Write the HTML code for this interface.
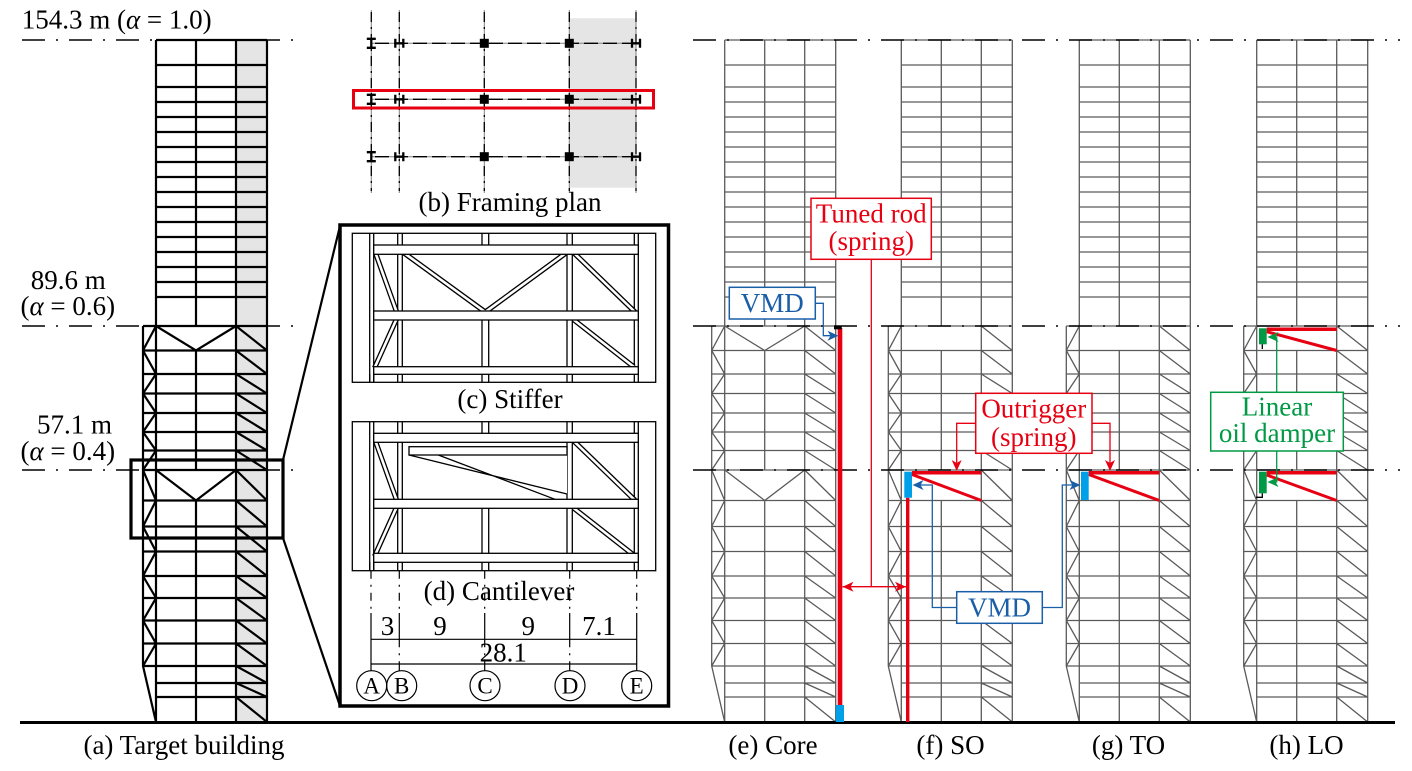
<!DOCTYPE html>
<html>
<head>
<meta charset="utf-8">
<style>
html,body{margin:0;padding:0;background:#fff;}
svg{display:block;}
.t{font-family:"Liberation Serif","Times New Roman",serif;font-size:27px;}
</style>
</head>
<body>
<svg width="1412" height="771" viewBox="0 0 1412 771" xmlns="http://www.w3.org/2000/svg">
<defs>
<g id="fr">
<path d="M156 40H267M156 65H267M156 87H267M156 102H267M156 117H267M156 132H267M156 147H267M156 162H267M156 177H267M156 192H267M156 207H267M156 222H267M156 237H267M156 252H267M156 267H267M156 282H267M156 297H267
M143 326H267M143 350.5H267M143 374H267M143 393.5H267M143 413H267M143 432H267M143 450.5H267M143 470H267M143 500.5H267M143 526.5H267M143 551.5H267M143 576H267M143 598H267M143 620.5H267M143 643.5H267M143 666H267M156 683H267M156 697H267
M156 40V722M236 40V722M267 40V722M196 40V326M196 350.5V470M196 500.5V722M143 326V666L156 722
M156 326L143 350.5L156 374L143 393.5L156 413L143 432L156 450.5L143 470L156 500.5L143 526.5L156 551.5L143 576L156 598L143 620.5L156 643.5L143 666
M236 326L267 350.5M236 350.5L267 374M236 374L267 393.5M236 393.5L267 413M236 413L267 432M236 432L267 450.5M236 450.5L267 470M236 470L267 500.5M236 500.5L267 526.5M236 526.5L267 551.5M236 551.5L267 576M236 576L267 598M236 598L267 620.5M236 620.5L267 643.5M236 643.5L267 666M236 666L267 683M236 683L267 697M236 697L267 722"/>
</g>
<path id="vb" d="M156 326L196 350.5L236 326M156 470L196 500.5L236 470"/>
</defs>

<!-- (a) Target building -->
<rect x="236" y="40" width="31" height="682" fill="#e5e5e5"/>
<g fill="none" stroke="#000" stroke-width="2.2">
<use href="#fr"/>
<use href="#vb"/>
</g>
<rect x="131" y="460" width="152" height="78" fill="none" stroke="#000" stroke-width="3.2"/>
<path d="M283 460L340 226M283 538L340 706" stroke="#000" stroke-width="2.2" fill="none"/>

<!-- right frames -->
<g fill="none" stroke="#5a5a5a" stroke-width="1.3">
<g transform="translate(568.7,0)"><use href="#fr"/><use href="#vb"/></g>
<g transform="translate(745.3,0)"><use href="#fr"/></g>
<g transform="translate(923.3,0)"><use href="#fr"/></g>
<g transform="translate(1100.7,0)"><use href="#fr"/></g>
</g>

<!-- level lines -->
<g stroke="#000" stroke-width="1.6" stroke-dasharray="23 11 2 11" fill="none">
<path d="M22 40H296M22 326H296M22 470H296"/>
<path d="M693 40H1400M693 326H1400M693 470H1400"/>
</g>

<!-- ground -->
<path d="M20 722.5H1395" stroke="#000" stroke-width="3"/>

<!-- (b) Framing plan -->
<rect x="569.3" y="18.3" width="66.7" height="169.4" fill="#e5e5e5"/>
<g stroke="#808080" stroke-width="1" fill="none">
<path d="M371.3 10V193M399.3 10V193M484.3 10V193M569.3 10V193M636 10V193"/>
<path d="M371.3 43.3H636M371.3 99.3H636M371.3 156.7H636"/>
<path d="M339 43.3H371.3M636 43.3H647M339 99.3H371.3M636 99.3H647M339 156.7H371.3M636 156.7H647" stroke="#fff" stroke-width="1.2" stroke-dasharray="4 6"/>
</g>
<g stroke="#000" stroke-width="1.3" fill="none">
<path d="M371.3 12V191M399.3 12V191M484.3 12V191M569.3 12V191M636 12V191" stroke-dasharray="10 5 2 5"/>
<path d="M375 43.3H632M375 99.3H632M375 156.7H632" stroke-dasharray="14 5"/>
</g>
<g stroke="#000" stroke-width="2.3" fill="none">
<path d="M366.8 38.8H375.8M366.8 47.8H375.8M371.3 38.8V47.8M366.8 94.8H375.8M366.8 103.8H375.8M371.3 94.8V103.8M366.8 152.2H375.8M366.8 161.2H375.8M371.3 152.2V161.2"/>
<path d="M395.3 38.8V47.8M403.3 38.8V47.8M395.3 43.3H403.3M395.3 94.8V103.8M403.3 94.8V103.8M395.3 99.3H403.3M395.3 152.2V161.2M403.3 152.2V161.2M395.3 156.7H403.3"/>
<path d="M632 38.8V47.8M640 38.8V47.8M632 43.3H640M632 94.8V103.8M640 94.8V103.8M632 99.3H640M632 152.2V161.2M640 152.2V161.2M632 156.7H640"/>
</g>
<g fill="#000">
<rect x="479.8" y="38.8" width="9" height="9"/><rect x="564.8" y="38.8" width="9" height="9"/>
<rect x="479.8" y="94.8" width="9" height="9"/><rect x="564.8" y="94.8" width="9" height="9"/>
<rect x="479.8" y="152.2" width="9" height="9"/><rect x="564.8" y="152.2" width="9" height="9"/>
</g>
<rect x="353.5" y="90.5" width="300" height="17.5" fill="none" stroke="#e60012" stroke-width="3"/>
<text class="t" x="510" y="211" text-anchor="middle">(b) Framing plan</text>

<!-- detail box -->
<rect x="340" y="225" width="328.5" height="481" fill="none" stroke="#000" stroke-width="3.5"/>

<!-- (c) Stiffer -->
<g fill="none" stroke="#000" stroke-width="1.3">
<rect x="352.3" y="233.3" width="303.4" height="149"/>
<path d="M369.7 233.3V382.3M373.7 233.3V382.3M397.7 233.3V382.3M402.3 233.3V382.3M567 233.3V382.3M572.3 233.3V382.3M634.3 233.3V382.3M638.3 233.3V382.3M482 233.3V245M488.7 233.3V245M482 320V382.3M488.7 320V382.3"/>
</g>
<g fill="none" stroke="#000" stroke-width="5.2">
<path d="M375.5 253L397 313M397 318L374.5 368M404 253L485.3 312L566 253M574 253L635 312M574 320L634 367"/>
</g>
<g fill="none" stroke="#fff" stroke-width="2.6">
<path d="M375.5 253L397 313M397 318L374.5 368M404 253L485.3 312L566 253M574 253L635 312M574 320L634 367"/>
</g>
<g fill="#fff" stroke="#000" stroke-width="1.3">
<rect x="373.7" y="245" width="264.6" height="9.3"/>
<rect x="373.7" y="311" width="264.6" height="9"/>
<rect x="373.7" y="366.7" width="264.6" height="7.6"/>
</g>
<path d="M369.7 374.3V382.3M373.7 374.3V382.3" stroke="#000" stroke-width="1.3"/>
<text class="t" x="510" y="408" text-anchor="middle">(c) Stiffer</text>

<!-- (d) Cantilever -->
<g fill="none" stroke="#000" stroke-width="1.3">
<rect x="352.3" y="421.7" width="303.4" height="149"/>
<path d="M369.7 421.7V570.7M373.7 421.7V570.7M397.7 421.7V570.7M402.3 421.7V570.7M567 421.7V570.7M572.3 421.7V570.7M634.3 421.7V570.7M638.3 421.7V570.7M482 421.7V433.3M488.7 421.7V433.3M482 508.3V570.7M488.7 508.3V570.7"/>
</g>
<g fill="none" stroke="#000" stroke-width="5.2">
<path d="M375.5 441.3L397 501.3M397 506.3L374.5 556.3M574 441.3L635 500.3M574 508.3L634 555.3"/>
</g>
<g fill="none" stroke="#fff" stroke-width="2.6">
<path d="M375.5 441.3L397 501.3M397 506.3L374.5 556.3M574 441.3L635 500.3M574 508.3L634 555.3"/>
</g>
<g fill="#fff" stroke="#000" stroke-width="1.3">
<path d="M409 455L567 494V455Z" stroke="none"/>
<path d="M409 455L567 494M438.3 455L555 499.3" fill="none"/>
<rect x="409" y="446.7" width="158" height="8.3"/>
<rect x="373.7" y="433.3" width="264.6" height="9"/>
<rect x="373.7" y="499.3" width="264.6" height="9"/>
<rect x="373.7" y="553.3" width="264.6" height="9"/>
</g>
<path d="M369.7 562.3V570.7M373.7 562.3V570.7" stroke="#000" stroke-width="1.3"/>
<text class="t" x="499" y="600" text-anchor="middle">(d) Cantilever</text>

<!-- dimensions -->
<g stroke="#000" stroke-width="1.2" fill="none">
<path d="M371 570.7V613M399.3 570.7V613M484.7 570.7V613M569.7 570.7V613M636.7 570.7V613M399.3 639.3V664M484.7 639.3V664M569.7 639.3V664" stroke-dasharray="8 6 2 6"/>
<path d="M371 613V670.7M636.7 613V670.7M399.3 613V639.3M484.7 613V639.3M569.7 613V639.3M399.3 664V671M484.7 664V670.7M569.7 664V670.7"/>
<path d="M371 639.3H636.7M371 664H636.7"/>
<circle cx="371.7" cy="685.7" r="15"/>
<circle cx="401.7" cy="685.7" r="15"/>
<circle cx="485" cy="685.7" r="15"/>
<circle cx="570" cy="685.7" r="15"/>
<circle cx="636.7" cy="685.7" r="15"/>
</g>
<g class="t">
<text x="387.5" y="635" text-anchor="middle">3</text>
<text x="440" y="635" text-anchor="middle">9</text>
<text x="528.3" y="635" text-anchor="middle">9</text>
<text x="599" y="635" text-anchor="middle">7.1</text>
<text x="503.3" y="661.5" text-anchor="middle">28.1</text>
</g>
<g font-family="Liberation Serif, serif" font-size="23" text-anchor="middle">
<text x="371.7" y="693.5">A</text>
<text x="401.7" y="693.5">B</text>
<text x="485" y="693.5">C</text>
<text x="570" y="693.5">D</text>
<text x="636.7" y="693.5">E</text>
</g>

<!-- left labels -->
<g class="t" text-anchor="middle">
<text x="116.7" y="28.3">154.3 m (<tspan font-style="italic">α</tspan> = 1.0)</text>
<text x="68.3" y="289">89.6 m</text>
<text x="67.8" y="315">(<tspan font-style="italic">α</tspan> = 0.6)</text>
<text x="74.5" y="433.3">57.1 m</text>
<text x="67.8" y="460">(<tspan font-style="italic">α</tspan> = 0.4)</text>
<text x="184" y="754">(a) Target building</text>
<text x="773" y="754">(e) Core</text>
<text x="950.5" y="754">(f) SO</text>
<text x="1128.5" y="754">(g) TO</text>
<text x="1306.5" y="754">(h) LO</text>
</g>

<!-- Core devices -->
<rect x="837.7" y="328" width="4.6" height="377" fill="#e60012"/>
<rect x="835.7" y="705" width="8.3" height="17" fill="#00a0e9"/>
<rect x="834" y="326.3" width="7.7" height="3" fill="#000"/>

<!-- SO devices -->
<rect x="906" y="497.7" width="3.4" height="224.3" fill="#e60012"/>
<rect x="904.3" y="471.7" width="7.7" height="26" fill="#00a0e9"/>
<path d="M912 472.7H981.3M1088.7 472.7H1159.3M1266.7 329.3H1336.7M1266.7 472.7H1336.7" stroke="#e60012" stroke-width="3.5" fill="none"/>
<path d="M912 474.5L981.3 500.5M1088.7 474.5L1159.3 500.5M1266.7 331.7L1336.7 350.5M1266.7 475L1336.7 500.5" stroke="#e60012" stroke-width="3" fill="none"/>
<!-- TO devices -->
<rect x="1081" y="471.7" width="7.7" height="28.3" fill="#00a0e9"/>
<!-- LO devices -->
<rect x="1259" y="328.3" width="7.7" height="16" fill="#009944"/>
<rect x="1259" y="471.7" width="7.7" height="21.6" fill="#009944"/>
<path d="M1262.3 344.3V349M1262.3 493.3V497.3H1256" stroke="#000" stroke-width="1.3" fill="none"/>

<!-- connectors -->
<g fill="none" stroke-width="1.3">
<path d="M871.3 259.3V586.7M842.5 586.7H906M975.7 423.3H956.7V468M1092 423.3H1110V468" stroke="#e60012"/>
<path d="M815.3 303.3H823.3V335.7H836M956.7 607.5H932.3V485H915M1042.3 607.5H1062.3V485H1078" stroke="#1a5ea8"/>
<path d="M1276.7 392.3V337H1270M1276.7 451V482H1270" stroke="#009944"/>
</g>
<g fill="#e60012">
<polygon points="0,0 -11,-5 -8,0 -11,5" transform="translate(842.5,586.7) rotate(180)"/>
<polygon points="0,0 -11,-5 -8,0 -11,5" transform="translate(906,586.7)"/>
<polygon points="0,0 -11,-5 -8,0 -11,5" transform="translate(956.7,471) rotate(90)"/>
<polygon points="0,0 -11,-5 -8,0 -11,5" transform="translate(1110,471) rotate(90)"/>
</g>
<g fill="#1a5ea8">
<polygon points="0,0 -11,-5 -8,0 -11,5" transform="translate(838.5,335.7)"/>
<polygon points="0,0 -11,-5 -8,0 -11,5" transform="translate(912.5,485) rotate(180)"/>
<polygon points="0,0 -11,-5 -8,0 -11,5" transform="translate(1080.5,485)"/>
</g>
<g fill="#009944">
<polygon points="0,0 -11,-5 -8,0 -11,5" transform="translate(1267.5,337) rotate(180)"/>
<polygon points="0,0 -11,-5 -8,0 -11,5" transform="translate(1267.5,482) rotate(180)"/>
</g>

<!-- label boxes -->
<rect x="811" y="198.3" width="120.3" height="61" fill="#fff" stroke="#e60012" stroke-width="1.5"/>
<rect x="729.3" y="287.3" width="86" height="31.7" fill="#fff" stroke="#1a5ea8" stroke-width="1.5"/>
<rect x="975.7" y="393.3" width="116.3" height="60" fill="#fff" stroke="#e60012" stroke-width="1.5"/>
<rect x="956.7" y="591.7" width="85.6" height="31.6" fill="#fff" stroke="#1a5ea8" stroke-width="1.5"/>
<rect x="1210.7" y="392.3" width="132.6" height="58.7" fill="#fff" stroke="#009944" stroke-width="1.5"/>
<g class="t" text-anchor="middle">
<text x="871.2" y="222.7" fill="#e60012">Tuned rod</text>
<text x="871.2" y="250" fill="#e60012">(spring)</text>
<text x="772.3" y="312" fill="#1a5ea8">VMD</text>
<text x="1033.8" y="417.5" fill="#e60012">Outrigger</text>
<text x="1033.8" y="446" fill="#e60012">(spring)</text>
<text x="999.5" y="616.5" fill="#1a5ea8">VMD</text>
<text x="1277" y="415.7" fill="#009944">Linear</text>
<text x="1277" y="442" fill="#009944">oil damper</text>
</g>
</svg>
</body>
</html>
